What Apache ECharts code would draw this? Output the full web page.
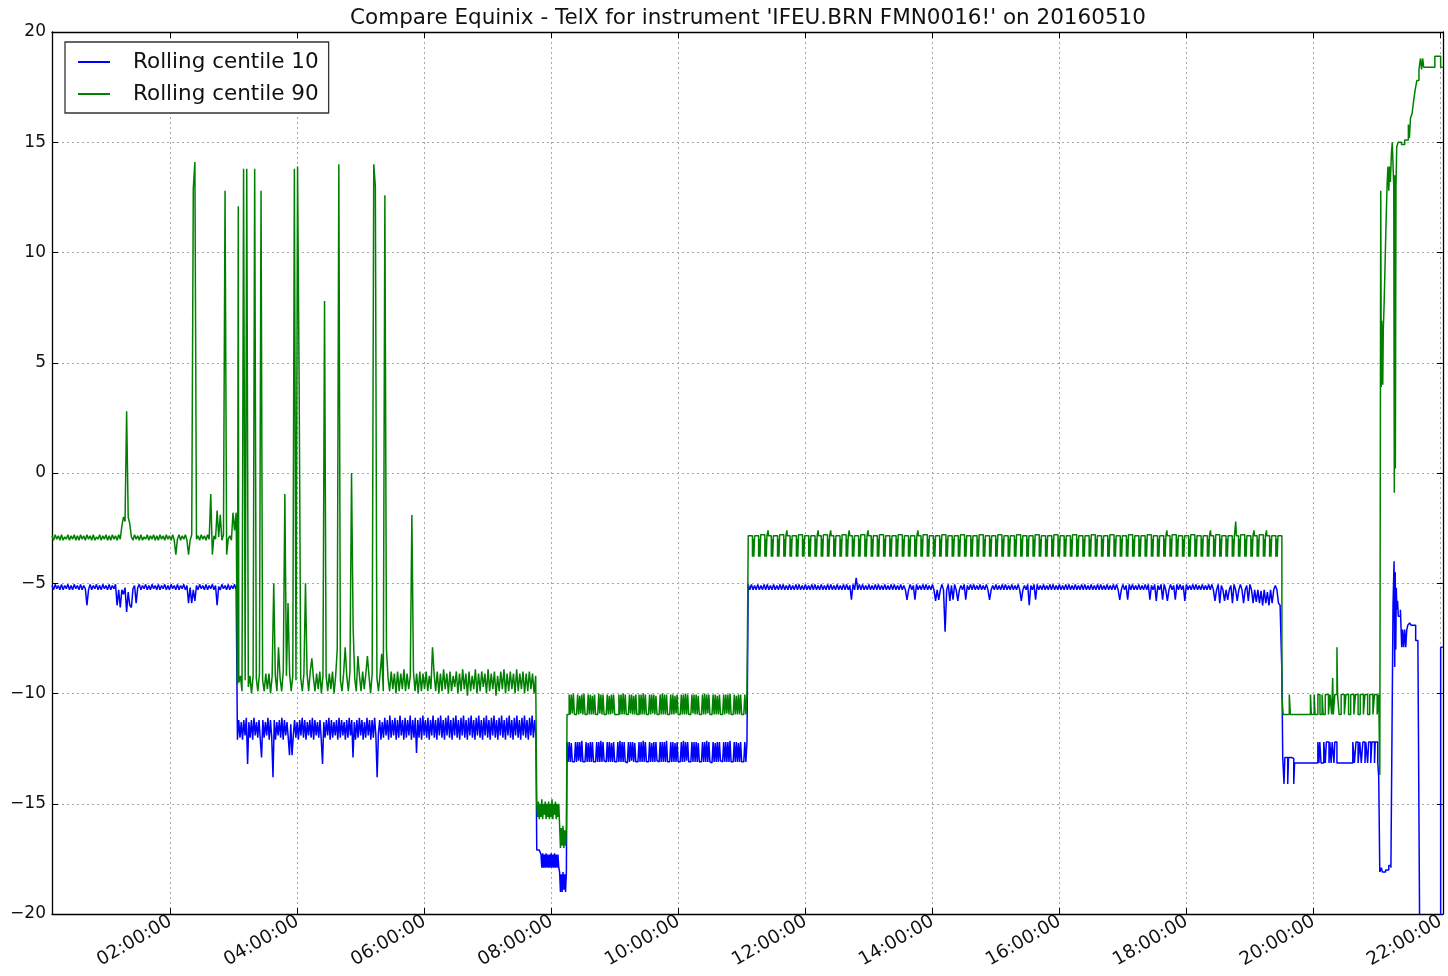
<!DOCTYPE html>
<html><head><meta charset="utf-8">
<script src="https://cdn.jsdelivr.net/npm/echarts@6/dist/echarts.min.js"></script>
<style>html,body{margin:0;padding:0;background:#fff}#c{width:1448px;height:976px}</style>
</head><body><div id="c"></div>
<script>
const TITLE = "Compare Equinix - TelX for instrument 'IFEU.BRN FMN0016!' on 20160510";
const seriesNames = ['Rolling centile 10', 'Rolling centile 90'];
// x values are minutes since midnight
const xTicks = [120, 240, 360, 480, 600, 720, 840, 960, 1080, 1200, 1320];
const xRange = [8, 1322];
const yRange = [-20, 20];

// Regularly sampled stretches: [start minute, sample spacing in minutes, values]
// ---- Rolling centile 10 (blue) ----
const p10_a_vals = [-5.1,-5.3,-5.05,-5.25,-5.1,-5.3,-5.05,-5.3,-5.1,-5.25,
 -5.05,-5.3,-5.1,-5.3,-5.05,-5.25,-5.1,-5.3,-5.05,-5.3,
 -5.1,-5.25,-6.0,-5.3,-5.05,-5.3,-5.1,-5.25,-5.05,-5.3,
 -5.1,-5.3,-5.05,-5.25,-5.1,-5.3,-5.05,-5.3,-5.1,-5.25,
 -5.05,-6.0,-5.3,-6.1,-5.3,-5.5,-5.2,-6.3,-5.4,-6.0,
 -6.1,-5.25,-5.1,-5.9,-5.2,-5.05,-5.3,-5.1,-5.25,-5.05,
 -5.3,-5.1,-5.3,-5.05,-5.25,-5.1,-5.3,-5.05,-5.3,-5.1,
 -5.25,-5.05,-5.3,-5.1,-5.3,-5.05,-5.25,-5.1,-5.3,-5.05,
 -5.3,-5.1,-5.25,-5.05,-5.3,-5.1,-5.9,-5.2,-5.9,-5.3,
 -5.8,-5.1,-5.3,-5.05,-5.25,-5.1,-5.3,-5.05,-5.3,-5.1,
 -5.25,-5.05,-5.3,-5.1,-6.0,-5.15,-5.3,-5.05,-5.25,-5.1,
 -5.3,-5.05,-5.3,-5.1,-5.25,-5.05,-5.3];
const p10_b_vals = [-12.1,-11.2,-12.0,-11.3,-12.1,-11.2,-11.9,-11.1,-13.2,-11.3,
 -12.0,-11.2,-12.1,-11.1,-11.9,-11.3,-12.0,-11.2,-12.1,-12.9,
 -11.2,-12.0,-11.3,-11.9,-11.1,-12.1,-11.2,-12.0,-13.8,-11.2,
 -12.1,-11.3,-11.9,-11.2,-12.0,-11.1,-12.1,-11.2,-11.9,-11.3,
 -12.0,-12.8,-11.4,-12.8,-11.9,-11.2,-12.0,-11.3,-12.1,-11.2,
 -11.9,-11.1,-12.0,-11.2,-12.1,-11.3,-11.9,-11.2,-12.0,-11.1,
 -12.1,-11.2,-11.9,-11.3,-12.0,-11.2,-12.1,-13.2,-11.3,-12.0,
 -11.2,-11.9,-11.1,-12.1,-11.2,-12.0,-11.3,-11.9,-11.2,-12.1,
 -11.1,-12.0,-11.2,-11.9,-11.3,-12.1,-11.2,-12.0,-11.1,-11.9,
 -11.2,-12.9,-11.3,-12.1,-11.2,-12.0,-11.1,-11.9,-11.2,-12.1,
 -11.3,-12.0,-11.1,-11.9,-11.2,-12.1,-11.2,-12.0,-11.1,-11.9,
 -13.8,-11.8,-11.2,-12.1,-11.3,-12.0,-11.1,-11.9,-11.2,-12.1,
 -11.0,-12.0,-11.2,-11.9,-11.1,-12.1,-11.2,-12.0,-11.0,-11.9,
 -11.2,-12.1,-11.1,-12.0,-11.2,-11.9,-11.0,-12.1,-11.2,-12.0,
 -11.1,-12.7,-11.2,-12.0,-11.1,-12.1,-11.0,-11.9,-11.2,-12.0,
 -11.1,-12.1,-11.2,-11.9,-11.0,-12.0,-11.2,-12.1,-11.1,-11.9,
 -11.0,-12.0,-11.2,-12.1,-11.1,-11.9,-11.0,-12.0,-11.2,-12.1,
 -11.1,-11.9,-11.0,-12.0,-11.2,-12.1,-11.1,-11.9,-11.0,-12.0,
 -11.2,-12.1,-11.1,-11.9,-11.0,-12.0,-11.2,-12.1,-11.1,-11.9,
 -11.0,-12.0,-11.2,-12.1,-11.1,-11.9,-11.0,-12.0,-11.2,-12.1,
 -11.1,-11.9,-11.0,-12.0,-11.2,-12.1,-11.1,-11.9,-11.0,-12.0,
 -11.2,-12.1,-11.1,-11.9,-11.0,-12.0,-11.2,-12.1,-11.1,-11.9,
 -11.0,-12.0,-11.2,-12.1,-11.1,-11.9,-11.0,-12.0,-11.2,-12.1,
 -11.1,-11.9,-11.0,-12.0,-11.2,-11.9];
const p10_c_vals = [-17.1,-17.1,-17.1,-17.1,-17.1,
 -17.3,-17.9,-17.25,-17.9,-17.3,-17.9,-17.25,-17.9,-17.3,-17.9,-17.3,-17.9,-17.25,-17.9,-17.3,-17.9,-17.25,-17.9,-17.3,-17.9,-17.3,-17.9,
 -18.1,-19.0,-18.2,-19.0,-18.1,-18.9,-18.2,-19.0,-18.1];
const p10_d_vals = [-12.2,-13.1,-12.2,-13.1,-12.25,-13.1,-13.1,-13.1,-12.2,-13.1,
 -12.2,-13.05,-12.2,-13.1,-12.15,-13.1,-13.1,-13.1,-12.2,-13.1,
 -12.25,-13.1,-12.2,-13.1,-12.2,-13.1,-13.1,-13.15,-12.2,-13.1,
 -12.2,-13.1,-12.15,-13.1,-12.2,-13.05,-13.1,-13.1,-12.2,-13.1,
 -12.2,-13.1,-12.25,-13.1,-12.2,-13.1,-13.1,-13.1,-12.2,-13.1,
 -12.15,-13.1,-12.2,-13.1,-12.2,-13.1,-13.15,-13.1,-12.2,-13.1,
 -12.2,-13.05,-12.2,-13.1,-12.25,-13.1,-13.1,-13.1,-12.2,-13.1,
 -12.2,-13.1,-12.15,-13.1,-12.2,-13.1,-13.1,-13.1,-12.2,-13.1,
 -12.25,-13.1,-12.2,-13.1,-12.2,-13.05,-13.1,-13.1,-12.2,-13.1,
 -12.2,-13.1,-12.2,-13.1,-12.15,-13.1,-13.1,-13.15,-12.2,-13.1,
 -12.2,-13.1,-12.25,-13.1,-12.2,-13.1,-13.1,-13.1,-12.2,-13.1,
 -12.15,-13.1,-12.2,-13.05,-12.2,-13.1,-13.1,-13.1,-12.2,-13.1,
 -12.2,-13.1,-12.2,-13.1,-12.25,-13.1,-13.1,-13.1,-12.2,-13.1,
 -12.2,-13.1,-12.15,-13.1,-12.2,-13.1,-13.15,-13.1,-12.2,-13.1,
 -12.25,-13.1,-12.2,-13.1,-12.2,-13.05,-13.1,-13.1,-12.2,-13.1,
 -12.2,-13.1,-12.2,-13.1,-12.15,-13.1,-13.1,-13.1,-12.2,-13.1,
 -12.2,-13.1,-12.25,-13.1,-12.2,-13.1,-13.1,-13.1,-12.2,-13.1,
 -12.2];
const p10_e_vals = [-5.05,-5.3,-5.05,-5.3,-5.1,-5.3,-5.05,-5.3,-5.1,-5.3,
 -5.05,-5.3,-5.05,-5.3,-5.1,-5.3,-5.05,-5.3,-5.1,-5.3,
 -5.05,-5.3,-5.05,-5.3,-5.1,-5.3,-5.05,-5.3,-5.1,-5.3,
 -5.05,-5.3,-5.05,-5.3,-5.1,-5.3,-5.05,-5.3,-5.1,-5.3,
 -5.05,-5.3,-5.05,-5.3,-5.1,-5.3,-5.05,-5.3,-5.1,-5.3,
 -5.05,-5.3,-5.05,-5.3,-5.1,-5.3,-5.05,-5.3,-5.1,-5.3,
 -5.05,-5.3,-5.05,-5.3,-5.1,-5.75,-5.05,-5.3,-4.75,-5.3,
 -5.05,-5.3,-5.05,-5.3,-5.1,-5.3,-5.05,-5.3,-5.1,-5.3,
 -5.05,-5.3,-5.05,-5.3,-5.1,-5.3,-5.05,-5.3,-5.1,-5.3,
 -5.05,-5.3,-5.05,-5.3,-5.1,-5.3,-5.05,-5.3,-5.1,-5.3,
 -5.75,-5.3,-5.05,-5.3,-5.1,-5.75,-5.05,-5.3,-5.1,-5.3,
 -5.05,-5.3,-5.05,-5.3,-5.1,-5.3,-5.05,-5.3,-5.8,-5.3,
 -5.75,-5.3,-5.05,-5.3,-7.2,-5.3,-5.05,-5.8,-5.1,-5.75,
 -5.05,-5.3,-5.8,-5.3,-5.1,-5.3,-5.05,-5.75,-5.1,-5.3,
 -5.05,-5.3,-5.05,-5.3,-5.1,-5.3,-5.05,-5.3,-5.1,-5.3,
 -5.05,-5.3,-5.75,-5.3,-5.1,-5.3,-5.05,-5.3,-5.1,-5.3,
 -5.05,-5.3,-5.05,-5.3,-5.1,-5.3,-5.05,-5.3,-5.1,-5.3,
 -5.05,-5.3,-5.8,-5.3,-5.1,-5.3,-5.05,-6.0,-5.1,-5.3,
 -5.05,-5.75,-5.05,-5.3,-5.1,-5.3,-5.05,-5.3,-5.1,-5.3,
 -5.05,-5.3,-5.05,-5.3,-5.1,-5.3,-5.05,-5.3,-5.1,-5.3,
 -5.05,-5.3,-5.05,-5.3,-5.1,-5.3,-5.05,-5.3,-5.1,-5.3,
 -5.05,-5.3,-5.05,-5.3,-5.1,-5.3,-5.05,-5.3,-5.1,-5.3,
 -5.05,-5.3,-5.05,-5.3,-5.1,-5.3,-5.05,-5.3,-5.1,-5.3,
 -5.05,-5.3,-5.05,-5.3,-5.75,-5.3,-5.05,-5.3,-5.1,-5.75,
 -5.05,-5.3,-5.05,-5.3,-5.1,-5.3,-5.05,-5.3,-5.1,-5.3,
 -5.05,-5.3,-5.05,-5.75,-5.1,-5.3,-5.05,-5.8,-5.1,-5.3,
 -5.05,-5.75,-5.05,-5.3,-5.8,-5.3,-5.05,-5.3,-5.1,-5.75,
 -5.05,-5.3,-5.05,-5.3,-5.1,-5.8,-5.05,-5.3,-5.1,-5.3,
 -5.05,-5.3,-5.05,-5.3,-5.1,-5.3,-5.05,-5.3,-5.1,-5.3,
 -5.05,-5.3,-5.05,-5.3,-5.8,-5.3,-5.05,-5.9,-5.1,-5.3,
 -5.8,-5.3,-5.75,-5.3,-5.1,-5.9,-5.05,-5.3,-5.8,-5.3,
 -5.05,-5.3,-5.9,-5.3,-5.1,-5.8,-5.05,-5.3,-5.9,-5.3,
 -5.85,-5.3,-5.9,-5.35,-6.0,-5.3,-5.9,-5.4,-6.0,-5.3,
 -5.9,-5.3,-5.1,-5.3,-5.9,-6.0];
const p10_f = [[1170,-9.0],[1170.8,-12.9],[1172,-14.1],[1172.8,-12.9],[1175.5,-14.1],[1176.3,-12.9],[1179,-12.95],[1181.2,-14.1],[1182,-13.15],[1204,-12.2],[1205,-13.15],[1205.8,-12.2],[1207,-13.15],[1209.6,-12.2],[1211,-13.15],[1212,-12.2],[1214.5,-13.15],[1215.3,-12.2],[1216.5,-13.15],[1217.5,-12.2],[1219.2,-13.15],[1220,-12.2],[1222,-13.15],[1237,-12.2],[1238.5,-13.15],[1240,-12.2],[1242,-13.15],[1243.6,-12.2],[1245,-13.15],[1246.5,-12.2],[1248.5,-13.15],[1249.3,-12.2],[1251,-13.15],[1252,-12.2],[1254,-13.15],[1255,-12.2],[1257.5,-13.15],[1258.2,-12.2],[1260.6,-13.15],[1261.5,-13.8]];
const p10_g = [[1262.5,-18.1],[1264,-17.9],[1265,-18.1],[1268,-18.0],[1271,-17.8],[1273,-17.9],[1274,-12.0],[1275,-6.0],[1276,-4.0],[1276.6,-8.8],[1277.1,-4.5],[1277.6,-8.0],[1278.1,-5.2],[1278.6,-6.2],[1279.3,-5.8],[1280,-6.5],[1282,-6.2],[1283.2,-7.9],[1284,-7.1],[1285,-7.9],[1286,-7.1],[1287,-7.9],[1288,-7.1],[1289,-6.9],[1290.7,-6.8],[1292,-6.9],[1296.4,-7.6],[1298.5,-7.7],[1300.2,-21],[1320,-7.9],[1322,-7.9]];

// ---- Rolling centile 90 (green) ----
const p90_a_vals = [-2.85,-3.05,-2.8,-3.0,-2.85,-3.05,-2.8,-3.05,-2.9,-3.0,
 -2.8,-3.05,-2.85,-3.0,-2.8,-3.05,-2.85,-3.05,-2.8,-3.0,
 -2.85,-3.05,-2.8,-3.0,-2.85,-3.05,-2.8,-3.05,-2.9,-3.0,
 -2.8,-3.05,-2.85,-3.0,-2.8,-3.05,-2.85,-3.05,-2.8,-3.0,
 -2.85,-3.05,-2.8,-3.0,-2.4,-2.0,-2.2,2.8,-2.0,-2.3,
 -2.9,-3.05,-2.8,-3.0,-2.85,-3.05,-2.8,-3.05,-2.9,-3.0,
 -2.8,-3.05,-2.85,-3.0,-2.8,-3.05,-2.85,-3.05,-2.8,-3.0,
 -2.85,-3.05,-2.8,-3.0,-2.85,-3.05,-2.8,-3.05,-3.7,-3.0,
 -2.8,-3.05,-2.85,-3.0,-2.8,-3.05,-3.7,-3.05,-2.8,12.9,
 14.1,-3.0,-2.85,-3.05,-2.8,-3.0,-2.85,-3.05,-2.8,-3.0,
 -0.95,-3.7,-2.85,-3.0,-1.7,-2.9,-1.9,-3.05,-2.8,12.8,
 -3.7,-3.0,-2.85,-3.05,-1.8,-2.6,-1.8];
const p90_a_end = [[183.2,-9.6],[184,12.1]];
const p90_b_vals = [-9.5,-9.2,-9.9,13.8,-9.4,13.8,-9.7,-9.2,-10.0,-9.2,
 13.8,-9.3,-9.9,-9.1,12.8,-9.4,-9.9,-9.1,-9.8,-9.1,
 -10.0,-9.2,-5.0,-9.2,-9.9,-7.9,-9.3,-9.9,-9.0,-0.95,
 -9.2,-5.9,-9.1,-9.9,-9.2,13.8,-9.4,13.9,4.0,-9.3,
 -9.9,-9.1,-5.0,-9.1,-9.9,-9.0,-8.4,-9.3,-9.9,-9.1,
 -9.8,-9.0,-10.0,-9.2,7.8,-9.2,-9.9,-9.1,-9.8,-9.0,
 -10.0,-9.2,-8.0,14.0,-9.4,-9.9,-9.1,-7.9,-9.2,-9.9,
 -9.0,0.0,-7.0,-9.3,-9.9,-8.3,-9.2,-9.9,-9.0,-9.8,
 -9.1,-8.3,-9.2,-10.0,-9.1,14.0,13.0,-9.3,-9.9,-9.1,
 -8.2,-9.9,12.6,-8.0,-9.3,-9.9,-9.0,-9.8,-9.1,-10.0,
 -9.0,-9.9,-9.1,-9.8,-8.9,-9.9,-9.1,-9.8,-9.2,-1.9,
 -9.0,-9.9,-9.1,-10.0,-9.0,-9.9,-9.1,-9.8,-9.0,-9.9,
 -9.2,-9.8,-7.9,-9.1,-9.9,-9.0,-10.0,-9.1,-9.9,-8.9,
 -9.8,-9.1,-10.0,-9.0,-9.9,-9.2,-9.7,-9.0,-10.0,-9.1,
 -9.9,-8.9,-9.8,-9.1,-10.1,-9.0,-9.9,-9.2,-9.8,-8.9,
 -10.0,-9.1,-9.9,-9.0,-9.7,-9.1,-10.0,-8.9,-9.9,-9.1,
 -9.8,-9.0,-10.1,-9.2,-9.9,-9.0,-9.8,-8.9,-10.0,-9.1,
 -9.9,-9.0,-9.8,-9.1,-10.0,-8.9,-9.9,-9.1,-9.8,-9.0,
 -10.0,-9.1,-9.9,-9.0,-9.8,-9.1,-10.0,-9.2];
const p90_c_vals = [-15.0,-15.6,-14.9,-15.7,-15.0,-15.6,-14.8,-15.7,-15.0,-15.5,-14.9,-15.7,-15.0,-15.6,-14.9,-15.7,-15.0,-15.6,-14.8,-15.7,-15.0,-15.5,-14.9,-15.7,-15.0,-15.6,-15.0,
 -16.0,-17.0,-16.1,-16.9,-16.0,-17.0,-16.2,-16.9,-16.1];
const p90_d_vals = [-10.95,-10.95,-10.05,-10.95,-10.05,-10.9,-10.0,-10.95,-10.95,-10.95,
 -10.05,-10.95,-10.1,-10.9,-10.05,-10.95,-10.0,-10.95,-10.95,-11.0,
 -10.05,-10.95,-10.05,-10.95,-10.1,-10.95,-10.05,-10.95,-10.95,-10.95,
 -10.0,-10.9,-10.05,-10.95,-10.05,-10.95,-10.95,-10.95,-10.05,-10.95,
 -10.1,-10.95,-10.05,-10.9,-10.05,-10.95,-10.95,-11.0,-10.95,-10.05,
 -10.95,-10.05,-10.95,-10.0,-10.95,-10.05,-10.95,-10.95,-10.95,-10.05,
 -10.9,-10.05,-10.95,-10.1,-10.95,-10.05,-10.95,-10.95,-10.05,-10.95,
 -10.05,-10.95,-10.0,-10.95,-10.05,-10.95,-10.95,-10.95,-10.05,-10.95,
 -10.05,-10.9,-10.05,-10.95,-10.1,-10.95,-10.95,-10.95,-10.05,-10.95,
 -10.0,-10.95,-10.05,-10.95,-10.05,-10.95,-10.95,-11.0,-10.05,-10.95,
 -10.05,-10.95,-10.1,-10.9,-10.05,-10.95,-10.95,-10.95,-10.05,-10.95,
 -10.05,-10.95,-10.0,-10.95,-10.05,-10.95,-10.95,-10.95,-10.05,-10.9,
 -10.05,-10.95,-10.05,-10.95,-10.1,-10.95,-10.95,-10.95,-10.05,-10.95,
 -10.0,-10.95,-10.05,-10.9,-10.05,-10.95,-10.95,-10.95,-10.05,-10.95,
 -10.05,-10.95,-10.1,-10.95,-10.05,-10.95,-10.95,-11.0,-10.05,-10.95,
 -10.05,-10.9,-10.05,-10.95,-10.0,-10.95,-10.95,-10.95,-10.05,-10.95,
 -10.1,-10.95,-10.05,-10.95,-10.05,-10.95,-10.95,-10.95,-10.05,-10.95,
 -10.05];
const p90_e = [[665.8,-2.85],[669.8,-3.8],[670.5,-3.0],[671.1,-3.8],
 [671.8,-2.85],[675.6,-3.8],[676.3,-3.0],[676.9,-3.8],
 [677.6,-2.8],[681.5,-3.8],[682.2,-3.0],[682.8,-3.8],
 [683.5,-2.85],[684.5,-2.6],[685,-2.85],[687.6,-3.8],[688.3,-3.0],[688.9,-3.8],
 [689.6,-2.85],[693.5,-3.8],[694.2,-3.0],[694.8,-3.8],
 [695.5,-2.8],[699.4,-3.8],[700.1,-3.0],[700.7,-3.8],
 [701.4,-2.85],[702.3,-2.6],[702.8,-2.85],[705.3,-3.8],[706,-3.0],[706.6,-3.8],
 [707.3,-2.85],[711.3,-3.8],[712,-3.0],[712.6,-3.8],
 [713.3,-2.8],[717.1,-3.8],[717.8,-3.0],[718.4,-3.8],
 [719.1,-2.85],[723,-3.8],[723.7,-3.0],[724.3,-3.8],
 [725,-2.85],[728.9,-3.8],[729.6,-3.0],[730.2,-3.8],
 [730.9,-2.85],[731.8,-2.6],[732.3,-2.85],[734.8,-3.8],[735.5,-3.0],[736.1,-3.8],
 [736.8,-2.8],[740.7,-3.8],[741.4,-3.0],[742,-3.8],
 [742.7,-2.85],[743.7,-2.6],[744.2,-2.85],[746.6,-3.8],[747.3,-3.0],[747.9,-3.8],
 [748.6,-2.85],[752.5,-3.8],[753.2,-3.0],[753.8,-3.8],
 [754.5,-2.8],[758.3,-3.8],[759,-3.0],[759.6,-3.8],
 [760.3,-2.85],[761.2,-2.6],[761.7,-2.85],[764.2,-3.8],[764.9,-3.0],[765.5,-3.8],
 [766.2,-2.85],[770.1,-3.8],[770.8,-3.0],[771.4,-3.8],
 [772.1,-2.8],[776,-3.8],[776.7,-3.0],[777.3,-3.8],
 [778,-2.85],[779,-2.6],[779.5,-2.85],[782,-3.8],[782.7,-3.0],[783.3,-3.8],
 [784,-2.85],[787.8,-3.8],[788.5,-3.0],[789.1,-3.8],
 [789.8,-2.8],[793.7,-3.8],[794.4,-3.0],[795,-3.8],
 [795.7,-2.85],[799.6,-3.8],[800.3,-3.0],[800.9,-3.8],
 [801.6,-2.85],[805.5,-3.8],[806.2,-3.0],[806.8,-3.8],
 [807.5,-2.8],[811.4,-3.8],[812.1,-3.0],[812.7,-3.8],
 [813.4,-2.85],[817.2,-3.8],[817.9,-3.0],[818.5,-3.8],
 [819.2,-2.85],[823.1,-3.8],[823.8,-3.0],[824.4,-3.8],
 [825.1,-2.85],[826.1,-2.6],[826.6,-2.85],[829,-3.8],[829.7,-3.0],[830.3,-3.8],
 [831,-2.8],[835,-3.8],[835.7,-3.0],[836.3,-3.8],
 [837,-2.85],[840.8,-3.8],[841.5,-3.0],[842.1,-3.8],
 [842.8,-2.85],[846.7,-3.8],[847.4,-3.0],[848,-3.8],
 [848.7,-2.8],[852.6,-3.8],[853.3,-3.0],[853.9,-3.8],
 [854.6,-2.85],[858.5,-3.8],[859.2,-3.0],[859.8,-3.8],
 [860.5,-2.85],[864.3,-3.8],[865,-3.0],[865.6,-3.8],
 [866.3,-2.8],[870.2,-3.8],[870.9,-3.0],[871.5,-3.8],
 [872.2,-2.85],[876.1,-3.8],[876.8,-3.0],[877.4,-3.8],
 [878.1,-2.85],[882,-3.8],[882.7,-3.0],[883.3,-3.8],
 [884,-2.8],[887.9,-3.8],[888.6,-3.0],[889.2,-3.8],
 [889.9,-2.85],[893.8,-3.8],[894.5,-3.0],[895.1,-3.8],
 [895.8,-2.85],[899.6,-3.8],[900.3,-3.0],[900.9,-3.8],
 [901.6,-2.8],[905.5,-3.8],[906.2,-3.0],[906.8,-3.8],
 [907.5,-2.85],[911.4,-3.8],[912.1,-3.0],[912.7,-3.8],
 [913.4,-2.85],[917.3,-3.8],[918,-3.0],[918.6,-3.8],
 [919.3,-2.8],[923.2,-3.8],[923.9,-3.0],[924.5,-3.8],
 [925.2,-2.85],[929,-3.8],[929.7,-3.0],[930.3,-3.8],
 [931,-2.85],[934.9,-3.8],[935.6,-3.0],[936.2,-3.8],
 [936.9,-2.8],[940.8,-3.8],[941.5,-3.0],[942.1,-3.8],
 [942.8,-2.85],[946.7,-3.8],[947.4,-3.0],[948,-3.8],
 [948.7,-2.85],[952.6,-3.8],[953.3,-3.0],[953.9,-3.8],
 [954.6,-2.8],[958.5,-3.8],[959.2,-3.0],[959.8,-3.8],
 [960.5,-2.85],[964.3,-3.8],[965,-3.0],[965.6,-3.8],
 [966.3,-2.85],[970.2,-3.8],[970.9,-3.0],[971.5,-3.8],
 [972.2,-2.8],[976.1,-3.8],[976.8,-3.0],[977.4,-3.8],
 [978.1,-2.85],[982,-3.8],[982.7,-3.0],[983.3,-3.8],
 [984,-2.85],[987.9,-3.8],[988.6,-3.0],[989.2,-3.8],
 [989.9,-2.8],[993.7,-3.8],[994.4,-3.0],[995,-3.8],
 [995.7,-2.85],[999.6,-3.8],[1000.3,-3.0],[1000.9,-3.8],
 [1001.6,-2.85],[1005.5,-3.8],[1006.2,-3.0],[1006.8,-3.8],
 [1007.5,-2.8],[1011.4,-3.8],[1012.1,-3.0],[1012.7,-3.8],
 [1013.4,-2.85],[1017.3,-3.8],[1018,-3.0],[1018.6,-3.8],
 [1019.3,-2.85],[1023.1,-3.8],[1023.8,-3.0],[1024.4,-3.8],
 [1025.1,-2.8],[1029,-3.8],[1029.7,-3.0],[1030.3,-3.8],
 [1031,-2.85],[1034.9,-3.8],[1035.6,-3.0],[1036.2,-3.8],
 [1036.9,-2.85],[1040.8,-3.8],[1041.5,-3.0],[1042.1,-3.8],
 [1042.8,-2.8],[1046.7,-3.8],[1047.4,-3.0],[1048,-3.8],
 [1048.7,-2.85],[1052.5,-3.8],[1053.2,-3.0],[1053.8,-3.8],
 [1054.5,-2.85],[1058.4,-3.8],[1059.1,-3.0],[1059.7,-3.8],
 [1060.4,-2.85],[1061.3,-2.6],[1061.8,-2.85],[1064.3,-3.8],[1065,-3.0],[1065.6,-3.8],
 [1066.3,-2.8],[1070.2,-3.8],[1070.9,-3.0],[1071.5,-3.8],
 [1072.2,-2.85],[1076.1,-3.8],[1076.8,-3.0],[1077.4,-3.8],
 [1078.1,-2.85],[1081.9,-3.8],[1082.6,-3.0],[1083.2,-3.8],
 [1083.9,-2.8],[1087.8,-3.8],[1088.5,-3.0],[1089.1,-3.8],
 [1089.8,-2.85],[1093.7,-3.8],[1094.4,-3.0],[1095,-3.8],
 [1095.7,-2.85],[1099.6,-3.8],[1100.3,-3.0],[1100.9,-3.8],
 [1101.6,-2.85],[1102.5,-2.6],[1103,-2.85],[1105.5,-3.8],[1106.2,-3.0],[1106.8,-3.8],
 [1107.5,-2.8],[1111.3,-3.8],[1112,-3.0],[1112.6,-3.8],
 [1113.3,-2.85],[1117.2,-3.8],[1117.9,-3.0],[1118.5,-3.8],
 [1119.2,-2.85],[1123.1,-3.8],[1123.8,-3.0],[1124.4,-3.8],
 [1125.1,-2.85],[1126.4,-2.2],[1127,-2.85],[1129,-3.8],[1129.7,-3.0],[1130.3,-3.8],
 [1131,-2.8],[1134.9,-3.8],[1135.6,-3.0],[1136.2,-3.8],
 [1136.9,-2.85],[1140.7,-3.8],[1141.4,-3.0],[1142,-3.8],
 [1142.7,-2.85],[1143.6,-2.6],[1144.1,-2.85],[1146.6,-3.8],[1147.3,-3.0],[1147.9,-3.8],
 [1148.6,-2.8],[1152.5,-3.8],[1153.2,-3.0],[1153.8,-3.8],
 [1154.5,-2.85],[1155.4,-2.6],[1155.9,-2.85],[1158.4,-3.8],[1159.1,-3.0],[1159.7,-3.8],
 [1160.4,-2.85],[1164.3,-3.8],[1165,-3.0],[1165.6,-3.8],
 [1166.3,-2.85]];
const p90_f = [[1170,-10.1],[1171.2,-10.95],[1177,-10.05],[1178,-10.95],[1197,-10.05],[1197.8,-10.95],[1200.5,-10.05],[1201.3,-10.95],[1204,-10.05],[1206,-10.95],[1208,-10.05],[1209,-10.95],[1211,-10.05],[1214,-10.95],[1215.5,-10.05],[1217,-10.95],[1218,-9.3],[1218.6,-10.95],[1220,-10.05],[1222,-7.9],[1222.6,-10.05],[1224,-10.95],[1226,-10.05],[1229,-10.95],[1230.5,-10.05],[1233,-10.95],[1235,-10.05],[1238,-10.95],[1239.5,-10.05],[1242,-10.95],[1244,-10.05],[1247,-10.95],[1248.5,-10.05],[1251,-10.95],[1253,-10.05],[1256,-10.95],[1257.5,-10.05],[1260,-10.95],[1261.5,-10.05]];
const p90_g = [[1262.5,-13.7],[1263.4,12.8],[1263.9,3.9],[1264.4,6.9],[1265.3,4.0],[1265.8,6.5],[1266.5,7.5],[1267.5,9.5],[1268.5,11.5],[1269.5,13.2],[1270.2,13.9],[1271,12.8],[1271.8,13.9],[1272.5,13.2],[1273.5,14.5],[1274.3,15.0],[1275.7,13.0],[1276.2,-0.9],[1276.7,13.5],[1277.2,0.2],[1277.8,13.0],[1278.5,14.8],[1280,15.0],[1283,14.9],[1286,15.1],[1289.5,15.8],[1290.5,15.2],[1291.5,16.1],[1293,16.3],[1294.5,16.9],[1296,17.4],[1297.5,17.8],[1299.5,18.3],[1301,18.8],[1302,18.3],[1303,18.8],[1304,18.4],[1314.5,18.9],[1320,18.4],[1322,18.4]];

// pair up regularly sampled stretches with their sample times
const sampled = (t0, dt, vals) => vals.map((v, i) => [+(t0 + i * dt).toFixed(2), v]);

const p10 = [].concat(
  sampled(8, 1.5, p10_a_vals),
  sampled(183.2, 1.2, p10_b_vals),
  sampled(466, 0.8, p10_c_vals),
  sampled(494.6, 1.0, p10_d_vals),
  sampled(665.8, 1.5, p10_e_vals),
  p10_f, p10_g);
const p90 = [].concat(
  sampled(8, 1.5, p90_a_vals), p90_a_end,
  sampled(184.5, 1.5, p90_b_vals),
  sampled(466, 0.8, p90_c_vals),
  sampled(494.6, 1.0, p90_d_vals),
  p90_e, p90_f, p90_g);

const FONT = 'DejaVu Sans';
const pad2 = n => (n < 10 ? '0' : '') + n;
const fmtX = v => pad2(Math.round(v / 60)) + ':00:00';
const fmtY = v => (v < 0 ? '\u2212' + Math.abs(v) : String(v));

const chart = echarts.init(document.getElementById('c'), null, {renderer: 'canvas'});
const lineSeries = (name, data, color) => ({
  type: 'line', name, data, step: 'end', symbol: 'none', showSymbol: false,
  lineStyle: {color, width: 1.5}, itemStyle: {color}, animation: false, silent: true,
  xAxisIndex: 0, yAxisIndex: 0
});
const frameAxis = {axisLine: {show: true, onZero: false, lineStyle: {color: '#000', width: 1.3}}};
chart.setOption({
  backgroundColor: '#fff',
  animation: false,
  graphic: [{
    type: 'text', x: 748, y: 7, z: 10,
    style: {text: TITLE, fontSize: 21.5, fontFamily: FONT, fill: '#111', align: 'center', verticalAlign: 'top'}
  }],
  grid: {left: 52, top: 32, right: 3, bottom: 62, containLabel: false},
  legend: {
    data: seriesNames, orient: 'vertical', left: 65, top: 42,
    padding: [9, 10, 8, 13], itemGap: 10, itemWidth: 32, itemHeight: 2, icon: 'rect',
    borderColor: '#333', borderWidth: 1.3, backgroundColor: '#fff',
    textStyle: {fontSize: 21.5, fontFamily: FONT, color: '#111', padding: [0, 0, 0, 18]}
  },
  xAxis: [Object.assign({
    type: 'value', min: xRange[0], max: xRange[1], position: 'bottom',
    axisTick: {show: true, inside: true, length: 6, customValues: xTicks, lineStyle: {color: '#000'}},
    axisLabel: {customValues: xTicks, formatter: fmtX, rotate: 30, margin: 6, fontSize: 18.5, fontFamily: FONT, color: '#111'},
    splitLine: {show: true, lineStyle: {color: '#a8a8a8', width: 1, type: [2, 3]}}
  }, frameAxis), Object.assign({
    type: 'value', min: xRange[0], max: xRange[1], position: 'top',
    axisTick: {show: true, inside: true, length: 6, customValues: xTicks, lineStyle: {color: '#000'}},
    axisLabel: {show: false}, splitLine: {show: false}
  }, frameAxis)],
  yAxis: [Object.assign({
    type: 'value', min: yRange[0], max: yRange[1], interval: 5, position: 'left',
    axisTick: {show: true, inside: true, length: 6, lineStyle: {color: '#000'}},
    axisLabel: {formatter: fmtY, margin: 6, fontSize: 17, fontFamily: FONT, color: '#111'},
    splitLine: {show: true, lineStyle: {color: '#a8a8a8', width: 1, type: [2, 3]}}
  }, frameAxis), Object.assign({
    type: 'value', min: yRange[0], max: yRange[1], interval: 5, position: 'right',
    axisTick: {show: true, inside: true, length: 6, lineStyle: {color: '#000'}},
    axisLabel: {show: false}, splitLine: {show: false}
  }, frameAxis)],
  series: [
    lineSeries(seriesNames[0], p10, '#0000ff'),
    lineSeries(seriesNames[1], p90, '#008000')
  ]
});
</script>
</body></html>
